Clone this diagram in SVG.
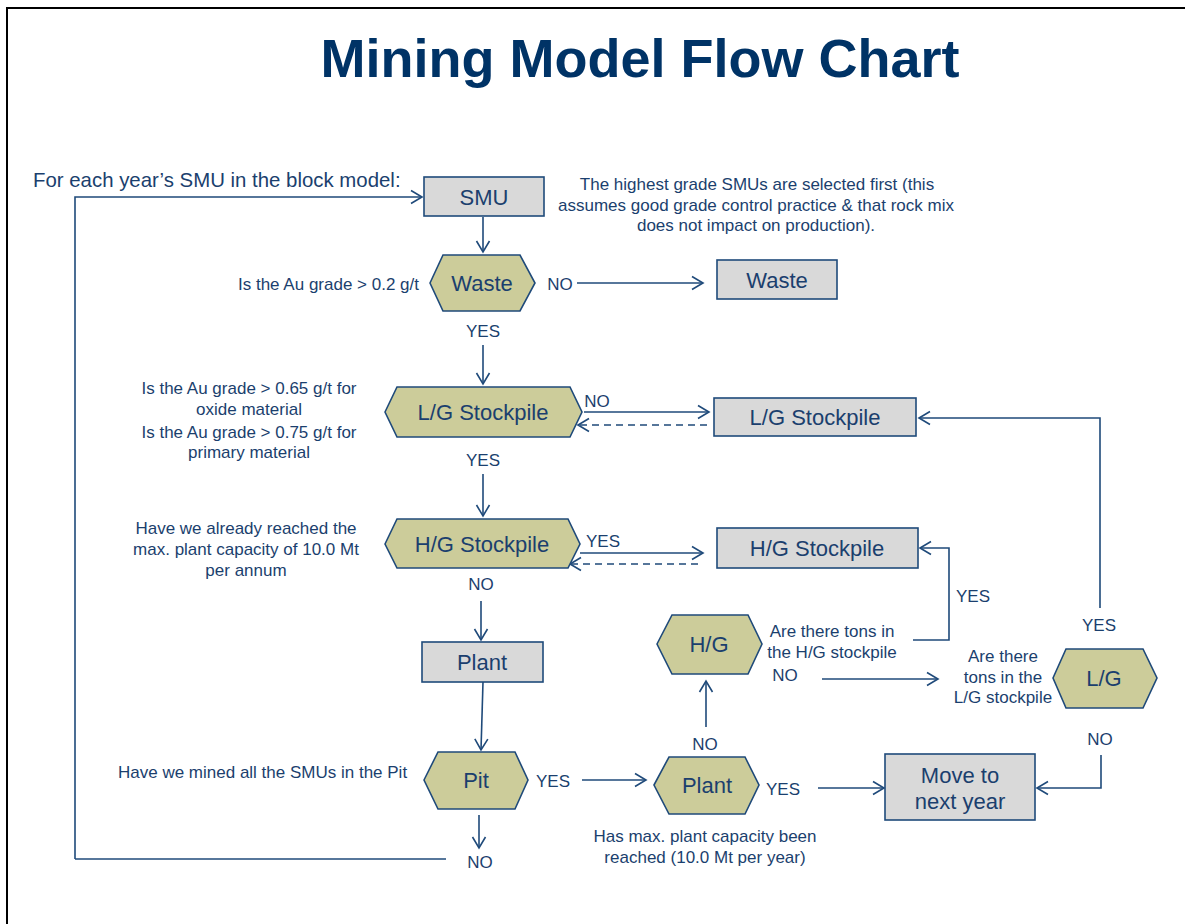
<svg xmlns="http://www.w3.org/2000/svg" width="1185" height="924" viewBox="0 0 1185 924">
  <defs>
    <marker id="arr" markerUnits="userSpaceOnUse" markerWidth="14" markerHeight="16" refX="12" refY="8" orient="auto">
      <path d="M1,1.5 L12,8 L1,14.5" fill="none" stroke="#1F4A7A" stroke-width="1.6"/>
    </marker>
    <style>
      text { font-family: "Liberation Sans", Arial, sans-serif; fill: #1B3F6E; }
      .title { font-size: 54px; font-weight: bold; fill: #003366; text-anchor: middle; }
      .lbl { font-size: 22px; text-anchor: middle; }
      .sm { font-size: 17px; }
      .c { text-anchor: middle; }
      .r { text-anchor: end; }
      .box { fill: #D9D9D9; stroke: #1F4A7A; stroke-width: 1.6; }
      .hex { fill: #CCCC9A; stroke: #1F4A7A; stroke-width: 1.6; }
      .ln { fill: none; stroke: #1F4A7A; stroke-width: 1.6; }
      .arr { fill: none; stroke: #1F4A7A; stroke-width: 1.6; marker-end: url(#arr); }
      .dash { stroke-dasharray: 7 5; }
    </style>
  </defs>

  <rect width="1185" height="924" fill="#FFFFFF"/>
  <!-- page frame -->
  <path d="M7,924 L7,8 L1185,8" fill="none" stroke="#000000" stroke-width="2"/>

  <text class="title" x="640" y="77">Mining Model Flow Chart</text>

  <!-- free-standing notes -->
  <text x="33" y="187" style="font-size:20.4px">For each year’s SMU in the block model:</text>
  <g class="sm c">
    <text x="757" y="190">The highest grade SMUs are selected first (this</text>
    <text x="756" y="211">assumes good grade control practice &amp; that rock mix</text>
    <text x="756" y="231">does not impact on production).</text>
  </g>
  <text class="sm r" x="419" y="290">Is the Au grade &gt; 0.2 g/t</text>
  <g class="sm c">
    <text x="249" y="394">Is the Au grade &gt; 0.65 g/t for</text>
    <text x="249" y="415">oxide material</text>
    <text x="249" y="438">Is the Au grade &gt; 0.75 g/t for</text>
    <text x="249" y="458">primary material</text>
    <text x="246" y="534">Have we already reached the</text>
    <text x="246" y="555">max. plant capacity of 10.0 Mt</text>
    <text x="246" y="576">per annum</text>
    <text x="832" y="637">Are there tons in</text>
    <text x="832" y="658">the H/G stockpile</text>
    <text x="1003" y="662">Are there</text>
    <text x="1003" y="683">tons in the</text>
    <text x="1003" y="703">L/G stockpile</text>
    <text x="705" y="842">Has max. plant capacity been</text>
    <text x="705" y="863">reached (10.0 Mt per year)</text>
  </g>
  <text class="sm" x="118" y="778">Have we mined all the SMUs in the Pit</text>

  <!-- branch labels -->
  <g class="sm c">
    <text x="560" y="290">NO</text>
    <text x="483" y="337">YES</text>
    <text x="597" y="407">NO</text>
    <text x="483" y="466">YES</text>
    <text x="603" y="547">YES</text>
    <text x="481" y="590">NO</text>
    <text x="973" y="602">YES</text>
    <text x="1099" y="631">YES</text>
    <text x="785" y="681">NO</text>
    <text x="705" y="750">NO</text>
    <text x="1100" y="745">NO</text>
    <text x="553" y="787">YES</text>
    <text x="783" y="795">YES</text>
    <text x="480" y="868">NO</text>
  </g>

  <!-- connectors -->
  <g id="connectors">
    <path class="arr" d="M75,859 L75,197 L422,197"/>
    <path class="ln" d="M75,859 L446,859"/>
    <path class="arr" d="M483,217 L483,252"/>
    <path class="arr" d="M577,283 L703,283"/>
    <path class="arr" d="M483,345 L483,384"/>
    <path class="arr" d="M584,412 L709,412"/>
    <path class="arr dash" d="M707,425 L578,425"/>
    <path class="arr" d="M483,474 L483,516"/>
    <path class="arr" d="M580,553 L703,553"/>
    <path class="arr dash" d="M698,564 L570,564"/>
    <path class="arr" d="M481,601 L481,640"/>
    <path class="arr" d="M483,682 L481,750"/>
    <path class="arr" d="M1100,608 L1100,418 L919,418"/>
    <path class="arr" d="M913,640 L949,640 L949,548 L920,548"/>
    <path class="arr" d="M822,679 L938,679"/>
    <path class="arr" d="M706,727 L706,681"/>
    <path class="arr" d="M1101,755 L1101,788 L1037,788"/>
    <path class="arr" d="M818,788 L884,788"/>
    <path class="arr" d="M582,780 L646,780"/>
    <path class="arr" d="M479,815 L479,848"/>
  </g>

  <!-- nodes -->
  <g id="smu">
    <rect class="box" x="424" y="177" width="120" height="39"/>
    <text class="lbl" x="484" y="205">SMU</text>
  </g>
  <g id="waste-test">
    <polygon class="hex" points="430,283 443,255 520,255 535,283 520,311 443,311"/>
    <text class="lbl" x="482" y="291">Waste</text>
  </g>
  <g id="waste">
    <rect class="box" x="717" y="260" width="120" height="39"/>
    <text class="lbl" x="777" y="288">Waste</text>
  </g>
  <g id="lg-test">
    <polygon class="hex" points="385,412 397,387 570,387 582,412 570,437 397,437"/>
    <text class="lbl" x="483" y="420">L/G Stockpile</text>
  </g>
  <g id="lg-stockpile">
    <rect class="box" x="714" y="398" width="202" height="38"/>
    <text class="lbl" x="815" y="425">L/G Stockpile</text>
  </g>
  <g id="hg-test">
    <polygon class="hex" points="385,544 397,519 568,519 580,544 568,568 397,568"/>
    <text class="lbl" x="482" y="552">H/G Stockpile</text>
  </g>
  <g id="hg-stockpile">
    <rect class="box" x="717" y="528" width="201" height="40"/>
    <text class="lbl" x="817" y="556">H/G Stockpile</text>
  </g>
  <g id="plant">
    <rect class="box" x="422" y="642" width="121" height="40"/>
    <text class="lbl" x="482" y="670">Plant</text>
  </g>
  <g id="hg-check">
    <polygon class="hex" points="657,644 672,615 748,615 762,644 748,674 672,674"/>
    <text class="lbl" x="709" y="652">H/G</text>
  </g>
  <g id="lg-check">
    <polygon class="hex" points="1053,678 1066,649 1143,649 1157,678 1143,708 1066,708"/>
    <text class="lbl" x="1104" y="686">L/G</text>
  </g>
  <g id="pit">
    <polygon class="hex" points="424,780 438,752 515,752 528,780 515,809 438,809"/>
    <text class="lbl" x="476" y="788">Pit</text>
  </g>
  <g id="plant-check">
    <polygon class="hex" points="654,785 669,757 745,757 759,785 745,814 669,814"/>
    <text class="lbl" x="707" y="793">Plant</text>
  </g>
  <g id="next-year">
    <rect class="box" x="885" y="754" width="150" height="66"/>
    <text class="lbl" x="960" y="783">Move to</text>
    <text class="lbl" x="960" y="809">next year</text>
  </g>
</svg>
